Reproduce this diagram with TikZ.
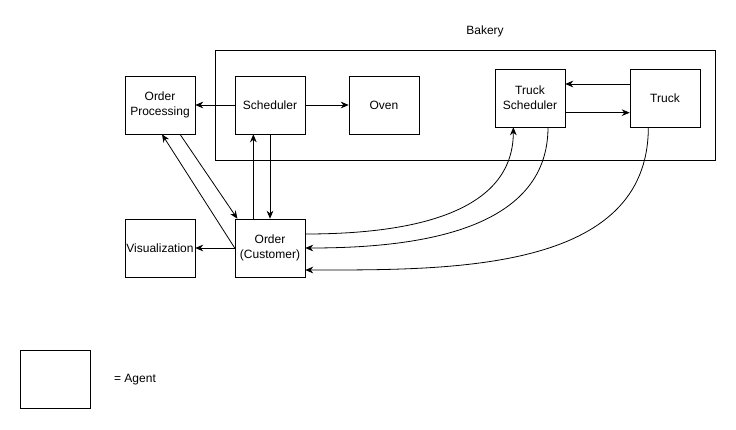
\documentclass[tikz,border=0pt]{standalone}
\usepackage{fontspec}
\setmainfont{Liberation Sans}
\usetikzlibrary{arrows.meta}

\begin{document}
\begin{tikzpicture}[x=0.75pt, y=-0.75pt,
  >={Stealth[length=6pt,width=5pt]},
  every node/.style = {font=\fontsize{9}{11}\selectfont, align=center},
  agent/.style = {shape=rectangle, draw, minimum width=52.5pt,
    minimum height=43.5pt, inner sep=1pt},
  link/.style = {->, line width=0.6pt}]
  \useasboundingbox (0,0) rectangle (736,429);
  % the bakery
  \draw[line width=0.6pt] (215,50) rectangle (715,160);
  \node (bakery) at (485,31) {Bakery};
  \node[agent] (sched) at (270,105) {Scheduler};
  \node[agent] (oven) at (384,105) {Oven};
  \node[agent] (tsched) at (530,98) {Truck\\Scheduler};
  \node[agent] (truck) at (665,98) {Truck};
  % outside
  \node[agent] (proc) at (160,105) {Order\\Processing};
  \node[agent] (vis) at (160,248) {Visualization};
  \node[agent] (order) at (270,248) {Order\\(Customer)};
  % legend
  \node[agent] (legend) at (55,379) {};
  \node (agenttext) at (135,380) {= Agent};

  \draw[link] (sched) -- (proc);
  \draw[link] (sched) -- (oven);
  \draw[link] ([yshift=10.5pt]truck.west) -- ([yshift=10.5pt]tsched.east);
  \draw[link] ([yshift=-11pt]tsched.east) -- ([yshift=-11pt]truck.west);
  \draw[link] ([xshift=-12.5pt]order.north) -- ([xshift=-12.5pt]sched.south);
  \draw[link] (sched.south) -- (order.north);
  \draw[link] ([xshift=15pt]proc.south) -- ([xshift=2pt]order.north west);
  \draw[link] (order.west) -- ([xshift=1.5pt]proc.south);
  \draw[link] (order) -- (vis);
  \draw[link] ([yshift=10.5pt]order.east) to[out=0, in=-90] ([xshift=-12.5pt]tsched.south);
  \draw[link] ([xshift=13.5pt]tsched.south) to[out=-90, in=0] (order.east);
  \draw[link] ([xshift=-12.5pt]truck.south) to[out=-90, in=0] ([yshift=-16.5pt]order.east);
\end{tikzpicture}
\end{document}
